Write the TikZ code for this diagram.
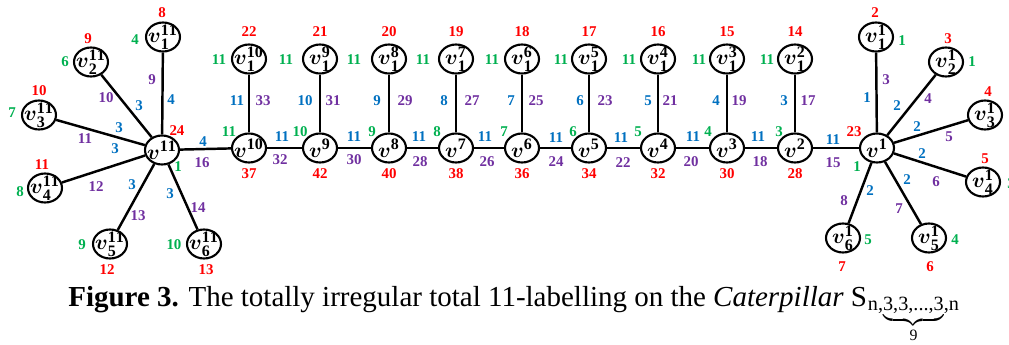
\documentclass[tikz,border=0pt]{standalone}
\usepackage{amsmath}
\usepackage{fontspec}
\setmainfont{Liberation Serif}
\usetikzlibrary{shapes.geometric}

\definecolor{lred}{HTML}{FF0000}
\definecolor{lgreen}{HTML}{00B050}
\definecolor{lblue}{HTML}{0070C0}
\definecolor{lpurple}{HTML}{7030A0}

\tikzset{
  vtx/.style={ellipse, draw, line width=1.2pt, fill=white,
    minimum width=0.68cm, minimum height=0.58cm, inner sep=-5pt,
    font=\fontsize{13}{13}\selectfont},
  link/.style={line width=1.4pt},
  num/.style={inner sep=0pt, font=\fontsize{8.5}{8.5}\selectfont\bfseries},
  nr/.style={num, text=lred},
  ng/.style={num, text=lgreen},
  nb/.style={num, text=lblue},
  np/.style={num, text=lpurple},
}

\begin{document}
\begin{tikzpicture}[x=0.02cm, y=-0.02cm]
\useasboundingbox (0,0) rectangle (1009,345);

% the two hubs
\node[vtx] (s11) at (162,150) {$\boldsymbol{v}^{\mathbf{11}}$};
\node[vtx] (s1) at (877,148) {$\boldsymbol{v}^{\mathbf{1}}$};
\node[nr] (sr11) at (177,131) {24};
\node[ng] (sg11) at (178,167) {1};
\node[nr] (sr1) at (854,132) {23};
\node[ng] (sg1) at (857,167) {1};

% spine vertices v^10 ... v^2 with their pendant vertices
\foreach \k/\x/\tr/\tgx/\bl/\blx/\pu/\pux/\gr/\grx/\rd in {
  10/249/22/219/11/237/33/263/11/229/37,
  9/320/21/286/10/305/31/333/10/300/42,
  8/389/20/354/9/377/29/405/9/372/40,
  7/456/19/423/8/444/27/472/8/437/38,
  6/522/18/492/7/511/25/536/7/504/36,
  5/589/17/561/6/580/23/605/6/573/34,
  4/658/16/629/5/648/21/670/5/638/32,
  3/727/15/699/4/716/19/739/4/708/30,
  2/795/14/767/3/784/17/808/3/779/28}{
  \node[vtx] (s\k) at (\x,148) {$\boldsymbol{v}^{\mathbf{\k}}$};
  \node[vtx] (t\k) at (\x,59) {$\boldsymbol{v}_{\mathbf{1}}^{\mathbf{\k}}$};
  \draw[link] (s\k) -- (t\k);
  \node[nr] (tr\k) at (\x,32) {\tr};
  \node[ng] (tg\k) at (\tgx,60) {11};
  \node[nb] (eb\k) at (\blx,101) {\bl};
  \node[np] (ep\k) at (\pux,101) {\pu};
  \node[ng] (sg\k) at (\grx,132) {\gr};
  \node[nr] (sr\k) at (\x,174) {\rd};
}

% spine edges
\foreach \a/\b/\bl/\bx/\by/\pu/\px/\py in {
  11/10/4/203/142/16/202/163,
  10/9/11/282/137/32/280/160,
  9/8/11/354/137/30/354/160,
  8/7/11/419/137/28/420/162,
  7/6/11/485/137/26/487/162,
  6/5/11/556/138/24/556/162,
  5/4/11/621/138/22/623/163,
  4/3/11/693/137/20/691/162,
  3/2/11/758/137/18/760/162,
  2/1/11/833/140/15/833/163}{
  \draw[link] (s\a) -- (s\b);
  \node[nb] (hb\a) at (\bx,\by) {\bl};
  \node[np] (hp\a) at (\px,\py) {\pu};
}

% leaves of v^11
\foreach \i/\x/\y/\rd/\rx/\ry/\gr/\gx/\gy/\bl/\bx/\by/\pu/\px/\py in {
  1/163/37/8/162/13/4/135/40/4/171/100/9/152/80,
  2/91/62/9/88/39/6/65/62/3/139/106/10/106/98,
  3/39/115/10/39/91/7/12/113/3/119/128/11/85/139,
  4/45/188/11/42/165/8/20/192/3/115/149/12/96/187,
  5/110/244/12/107/270/9/82/245/3/132/185/13/138/216,
  6/204/244/13/206/270/10/174/245/3/170/194/14/198/208}{
  \node[vtx] (L\i) at (\x,\y) {$\boldsymbol{v}_{\mathbf{\i}}^{\mathbf{11}}$};
  \draw[link] (s11) -- (L\i);
  \node[nr] (Lr\i) at (\rx,\ry) {\rd};
  \node[ng] (Lg\i) at (\gx,\gy) {\gr};
  \node[nb] (Lb\i) at (\bx,\by) {\bl};
  \node[np] (Lp\i) at (\px,\py) {\pu};
}

% leaves of v^1
\foreach \i/\x/\y/\rd/\rx/\ry/\bl/\bx/\by/\pu/\px/\py in {
  1/876/37/2/875/13/1/867/98/3/886/80,
  2/946/62/3/948/39/2/897/106/4/928/99,
  3/985/115/4/988/92/2/917/127/5/949/137,
  4/983/182/5/985/159/2/922/154/6/936/182,
  5/929/238/6/930/267/2/907/180/7/899/209,
  6/843/238/7/842/267/2/870/191/8/844/201}{
  \node[vtx] (R\i) at (\x,\y) {$\boldsymbol{v}_{\mathbf{\i}}^{\mathbf{1}}$};
  \draw[link] (s1) -- (R\i);
  \node[nr] (Rr\i) at (\rx,\ry) {\rd};
  \node[nb] (Rb\i) at (\bx,\by) {\bl};
  \node[np] (Rp\i) at (\px,\py) {\pu};
}
\node[ng] (Rg1) at (902,41) {1};
\node[ng] (Rg2) at (972,62) {1};
\node[ng] (Rg4) at (1011,184) {3};
\node[ng] (Rg5) at (955,240) {4};
\node[ng] (Rg6) at (868,240) {5};

% caption
\node[anchor=base west, inner sep=0pt, font=\fontsize{16.5}{19}\selectfont] (cap) at (68,306)
  {\textbf{Figure 3.} The totally irregular total 11-labelling on the \textit{Caterpillar} S\kern0.5pt\raisebox{-2.5pt}{\fontsize{11.5}{11.5}\selectfont n,$\underbrace{\text{3,3,...,3}}_{\text{\fontsize{9}{9}\selectfont 9}}$,n}};
\end{tikzpicture}
\end{document}
